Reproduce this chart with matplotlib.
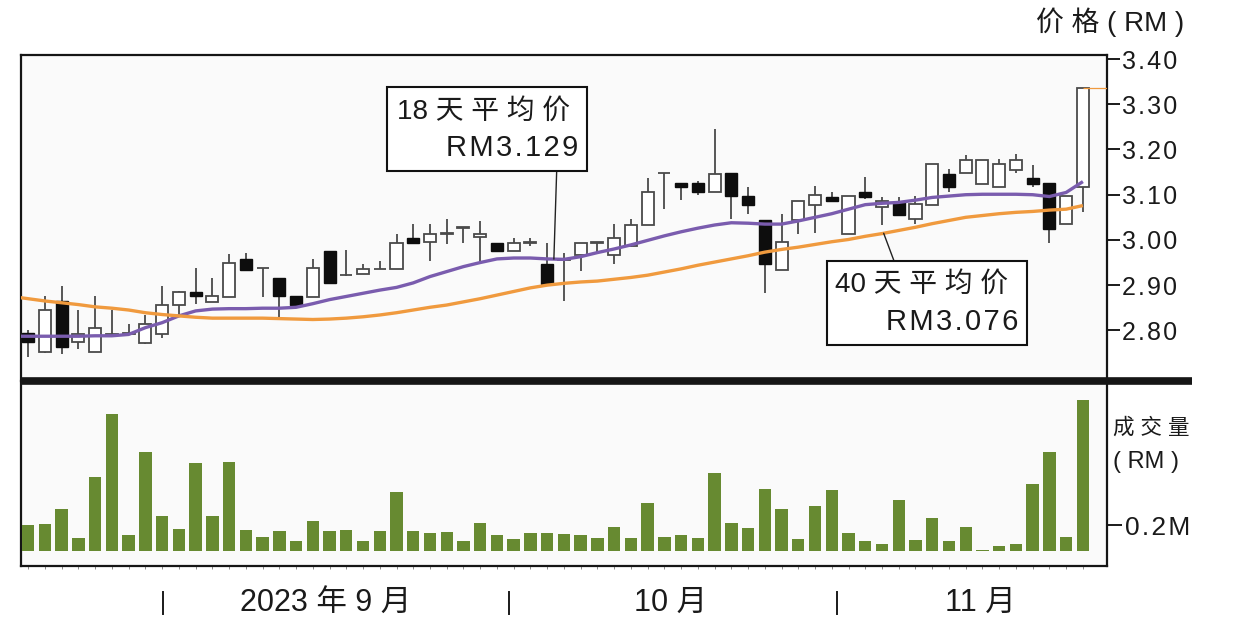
import numpy as np
import matplotlib
matplotlib.use("Agg")
from matplotlib import pyplot as plt
from matplotlib.patches import Rectangle
from matplotlib.transforms import blended_transform_factory
from matplotlib.lines import Line2D

plt.rcParams['font.family'] = ['Liberation Sans', 'Noto Sans CJK SC', 'DejaVu Sans']

# 日K线数据 (2023年8月底 - 11月)
opens = [2.795, 2.753, 2.866, 2.774, 2.753, 2.790, 2.792, 2.772, 2.792, 2.855,
         2.885, 2.863, 2.873, 2.957, 2.937, 2.916, 2.876, 2.874, 2.976, 2.922,
         2.924, 2.935, 2.935, 3.004, 2.996, 3.014, 3.027, 3.007, 2.993, 2.976,
         2.994, 2.947, 2.955, 2.967, 2.993, 2.967, 2.987, 3.033, 3.147, 3.125,
         3.125, 3.105, 3.147, 3.098, 3.044, 2.933, 3.044, 3.078, 3.096, 3.014,
         3.105, 3.073, 3.083, 3.046, 3.078, 3.146, 3.147, 3.124, 3.116, 3.155,
         3.136, 3.125, 3.035, 3.116]
highs = [2.800, 2.876, 2.898, 2.846, 2.876, 2.844, 2.815, 2.835, 2.898, 2.887,
         2.938, 2.916, 2.969, 2.971, 2.937, 2.916, 2.876, 2.957, 2.976, 2.978,
         2.947, 2.953, 3.014, 3.035, 3.036, 3.046, 3.027, 3.042, 2.993, 3.005,
         3.004, 2.994, 2.972, 2.994, 2.993, 3.035, 3.046, 3.138, 3.147, 3.125,
         3.130, 3.246, 3.147, 3.116, 3.044, 3.057, 3.085, 3.120, 3.105, 3.098,
         3.140, 3.094, 3.094, 3.098, 3.167, 3.157, 3.187, 3.176, 3.179, 3.189,
         3.166, 3.125, 3.098, 3.337]
lows = [2.740, 2.750, 2.747, 2.758, 2.752, 2.788, 2.790, 2.770, 2.783, 2.835,
        2.858, 2.862, 2.873, 2.933, 2.873, 2.827, 2.856, 2.874, 2.904, 2.920,
        2.924, 2.935, 2.935, 2.994, 2.953, 2.990, 2.994, 2.946, 2.976, 2.976,
        2.987, 2.902, 2.864, 2.931, 2.968, 2.946, 2.985, 3.033, 3.068, 3.088,
        3.100, 3.105, 3.046, 3.057, 2.883, 2.933, 3.014, 3.016, 3.087, 3.014,
        3.090, 3.033, 3.056, 3.036, 3.078, 3.105, 3.147, 3.124, 3.116, 3.147,
        3.118, 2.994, 3.035, 3.061]
closes = [2.775, 2.846, 2.764, 2.792, 2.805, 2.791, 2.793, 2.813, 2.855, 2.885,
          2.876, 2.876, 2.950, 2.933, 2.937, 2.876, 2.856, 2.937, 2.904, 2.922,
          2.935, 2.935, 2.994, 2.994, 3.014, 3.014, 3.027, 3.014, 2.976, 2.994,
          2.994, 2.902, 2.958, 2.994, 2.993, 3.005, 3.033, 3.105, 3.147, 3.116,
          3.105, 3.146, 3.098, 3.077, 2.946, 2.996, 3.085, 3.099, 3.087, 3.098,
          3.096, 3.085, 3.056, 3.079, 3.167, 3.116, 3.176, 3.176, 3.168, 3.176,
          3.124, 3.025, 3.098, 3.337]

# 成交量 (百万令吉)
volumes = [0.197, 0.210, 0.325, 0.103, 0.568, 1.055, 0.126, 0.760, 0.266, 0.172,
           0.676, 0.266, 0.684, 0.164, 0.108, 0.151, 0.077, 0.228, 0.151, 0.164,
           0.077, 0.151, 0.458, 0.151, 0.141, 0.146, 0.077, 0.215, 0.120, 0.089,
           0.141, 0.141, 0.128, 0.120, 0.100, 0.184, 0.103, 0.369, 0.108, 0.120,
           0.103, 0.602, 0.215, 0.177, 0.479, 0.325, 0.095, 0.343, 0.466, 0.141,
           0.074, 0.057, 0.395, 0.082, 0.253, 0.074, 0.184, 0.011, 0.036, 0.057,
           0.517, 0.760, 0.108, 1.163]

# 移动平均线 (第一个值是图表左边之前的一天)
ma18 = [2.787, 2.787, 2.787, 2.787, 2.787, 2.788, 2.788, 2.791, 2.806, 2.817,
        2.832, 2.843, 2.847, 2.848, 2.848, 2.849, 2.849, 2.851, 2.859, 2.868,
        2.875, 2.882, 2.889, 2.895, 2.905, 2.919, 2.930, 2.941, 2.950, 2.958,
        2.960, 2.960, 2.958, 2.957, 2.963, 2.972, 2.980, 2.989, 2.999, 3.009,
        3.018, 3.026, 3.033, 3.038, 3.037, 3.035, 3.035, 3.042, 3.050, 3.058,
        3.068, 3.078, 3.081, 3.083, 3.088, 3.094, 3.097, 3.100, 3.101, 3.101,
        3.101, 3.100, 3.096, 3.105, 3.129]
ma40 = [2.875, 2.870, 2.865, 2.861, 2.857, 2.852, 2.849, 2.845, 2.839, 2.835,
        2.832, 2.829, 2.827, 2.827, 2.827, 2.827, 2.826, 2.825, 2.824, 2.825,
        2.827, 2.830, 2.834, 2.839, 2.845, 2.851, 2.856, 2.863, 2.870, 2.878,
        2.886, 2.894, 2.900, 2.904, 2.907, 2.909, 2.913, 2.917, 2.922, 2.929,
        2.936, 2.944, 2.951, 2.958, 2.965, 2.973, 2.979, 2.984, 2.990, 2.996,
        3.001, 3.008, 3.014, 3.021, 3.028, 3.036, 3.043, 3.050, 3.054, 3.058,
        3.061, 3.063, 3.066, 3.068, 3.076]

price_ticks = [2.80, 2.90, 3.00, 3.10, 3.20, 3.30, 3.40]
month_labels = ["2023 年 9 月", "10 月", "11 月"]

ma18_label = "18 天 平 均 价"
ma40_label = "40 天 平 均 价"

HS = "\u200a"  # hair space, 字距用


def spaced(s):
    return HS.join(s)


# ---------------------------------------------------------------
n = len(closes)
idx = np.arange(n)
ma_idx = np.arange(-1, n)
o = np.array(opens)
c = np.array(closes)
h = np.array(highs)
l = np.array(lows)

TXT = '#1a1a1a'
BG = '#fafafa'
PURPLE = '#7a5cae'
ORANGE = '#f09a3e'
GREEN = '#678a31'

fig = plt.figure(figsize=(12.33, 6.30), dpi=100)
W, H = 1233.0, 630.0
x0, x1 = 20.5, 1107.0
ax = fig.add_axes([x0 / W, 1 - 381 / H, (x1 - x0) / W, (381 - 55) / H])
axv = fig.add_axes([x0 / W, 1 - 566 / H, (x1 - x0) / W, (566 - 381) / H])

xlim = (-0.46, 64.44)

# 价格图
ax.set_facecolor(BG)
ax.set_xlim(*xlim)
ax.set_ylim(2.688, 3.409)

ax.vlines(idx, l, h, color='#3a3a3a', lw=1.2, zorder=2)
up = c >= o
body_lo = np.minimum(o, c)
body_h = np.maximum(np.abs(c - o), 0.0015)
ax.bar(idx[up], body_h[up], bottom=body_lo[up], width=0.72,
       facecolor='white', edgecolor='#4a4a4a', lw=1.3, zorder=3)
ax.bar(idx[~up], body_h[~up], bottom=body_lo[~up], width=0.72,
       facecolor='#0d0d0d', edgecolor='#0d0d0d', lw=1.0, zorder=3)

ax.plot(ma_idx, ma18, color=PURPLE, lw=2.4, zorder=4, solid_capstyle='butt')
ax.plot(ma_idx, ma40, color=ORANGE, lw=2.4, zorder=4, solid_capstyle='butt')
# 最后价格的细线
ax.hlines(c[-1], n - 1, xlim[1], color=ORANGE, lw=0.9, zorder=4)

ax.yaxis.tick_right()
ax.set_yticks(price_ticks)
ax.set_yticklabels([spaced("%.2f" % v) for v in price_ticks])
ax.tick_params(axis='y', length=9, width=1.4, pad=2, labelsize=18, colors=TXT)
ax.set_xticks([])
for s in ax.spines.values():
    s.set_linewidth(1.6)
    s.set_color('#151515')
ax.spines['bottom'].set_visible(False)

fig.text(1184 / W, 1 - 22 / H, "价 格 ( RM )", ha='right', va='center',
         fontsize=20, color=TXT)

# 均线说明框
def label_box(bx0, by0, bx1, by1, line1, line2, tx1, ty1, tx2, ty2, lx, ly, anchor, ma):
    ax.add_patch(Rectangle((bx0, by0), bx1 - bx0, by1 - by0, transform=ax.transAxes,
                           facecolor='white', edgecolor='#111111', lw=1.5, zorder=6))
    ax.text(tx1, ty1, line1, transform=ax.transAxes, ha='left', va='center',
            fontsize=20, color=TXT, zorder=7)
    ax.text(tx2, ty2, spaced(line2), transform=ax.transAxes, ha='right', va='center',
            fontsize=21, color=TXT, zorder=7)
    ax.annotate('', xy=(anchor, np.interp(anchor, ma_idx, ma)), xycoords='data',
                xytext=(lx, ly), textcoords='axes fraction',
                arrowprops=dict(arrowstyle='-', color='#222222', lw=1.0,
                                shrinkA=0, shrinkB=0), zorder=5)

label_box(0.3370, 0.6451, 0.5217, 0.9028, ma18_label, "RM%.3f" % ma18[-1],
          0.3462, 0.8261, 0.5134, 0.7138, 0.4935, 0.6451, 31.4, ma18)
label_box(0.7420, 0.1104, 0.9261, 0.3690, ma40_label, "RM%.3f" % ma40[-1],
          0.7497, 0.2945, 0.9184, 0.1819, 0.8039, 0.3690, 51.1, ma40)

# 成交量图
axv.set_facecolor(BG)
axv.set_xlim(*xlim)
axv.set_ylim(-0.115, 1.308)
axv.bar(idx, volumes, width=0.74, color=GREEN, zorder=3)
axv.yaxis.tick_right()
axv.set_yticks([0.2])
axv.set_yticklabels([spaced("0.2M")])
axv.tick_params(axis='y', length=11, width=1.4, pad=2, labelsize=19, colors=TXT)
axv.set_xticks([])
axv.set_xticks(idx, minor=True)
axv.tick_params(axis='x', which='minor', length=2.5, width=0.6, colors='#777777')
for s in axv.spines.values():
    s.set_linewidth(1.6)
    s.set_color('#151515')
axv.spines['top'].set_visible(False)

fig.text(1113 / W, 1 - 428 / H, "成 交 量", ha='left', va='center', fontsize=15.5, color=TXT)
fig.text(1113 / W, 1 - 462 / H, "( RM )", ha='left', va='center', fontsize=17, color=TXT)

# 粗分隔线
fig.add_artist(Line2D([x0 / W, 1192 / W], [1 - 381 / H, 1 - 381 / H],
                      color='#161616', lw=5.5, solid_capstyle='butt'))

# 月份
trans = blended_transform_factory(axv.transData, axv.transAxes)
for sep in [8.04, 28.73, 48.3]:
    axv.plot([sep, sep], [-0.14, -0.26], color=TXT, lw=1.4, transform=trans, clip_on=False)
for pos, txt in zip([17.78, 38.35, 56.9], month_labels):
    axv.text(pos, -0.2, txt, transform=trans, ha='center', va='center',
             fontsize=22, color=TXT)

plt.savefig("out.png", dpi=100, facecolor='white')
